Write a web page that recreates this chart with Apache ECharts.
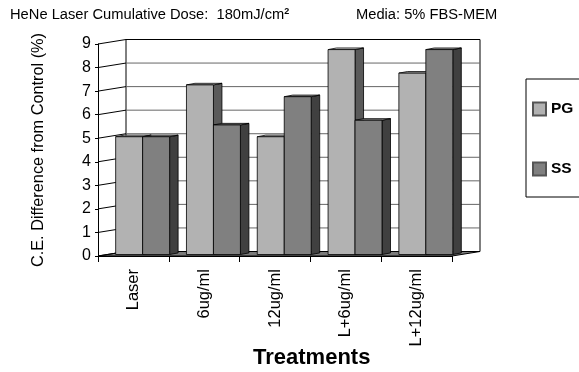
<!DOCTYPE html>
<html>
<head>
<meta charset="utf-8">
<script src="https://cdn.jsdelivr.net/npm/echarts@6/dist/echarts.min.js"></script>
<style>html,body{margin:0;padding:0;background:#fff}#c{width:579px;height:372px}</style>
</head>
<body>
<div id="c"></div>
<script>
const categories = ['Laser', '6ug/ml', '12ug/ml', 'L+6ug/ml', 'L+12ug/ml'];
const pgValues = [5.0, 7.2, 5.0, 8.7, 7.7];
const ssValues = [5.0, 5.5, 6.7, 5.7, 8.7];
const yTicks = [0, 1, 2, 3, 4, 5, 6, 7, 8, 9];
const seriesNames = ['PG', 'SS'];

const FONT = 'Liberation Sans';
const DX = 28, DY = -4.5;          // depth of the 3D box
const F1 = 0.33;                   // bar front depth fraction
const BDX = 8.5, BDY = -1.6;       // bar depth
const BARFRAC = 0.381;             // bar width as fraction of band

const faces = {
  PG: { front: '#b2b2b2', side: '#5a5a5a', top: '#cfcfcf' },
  SS: { front: '#808080', side: '#404040', top: '#9a9a9a' }
};

function frameItem(params, api) {
  const v = api.value(1);
  const bw = api.size([1, 0])[0];
  const x0 = api.coord([0, 0])[0] - bw / 2;
  const x1 = api.coord([categories.length - 1, 0])[0] + bw / 2;
  const y = api.coord([0, v])[1];
  const yTop = api.coord([0, yTicks[yTicks.length - 1]])[1];
  const y0 = api.coord([0, 0])[1];
  const children = [];
  if (params.dataIndex === 0) {
    children.push({
      type: 'polygon',
      shape: { points: [[x0, y0], [x1, y0], [x1 + DX, y0 + DY], [x0 + DX, y0 + DY]] },
      style: { fill: '#7a7a7a', stroke: '#000', lineWidth: 1 }
    });
    children.push({ type: 'line', shape: { x1: x0 + DX, y1: yTop + DY, x2: x0 + DX, y2: y0 + DY }, style: { stroke: '#000', lineWidth: 1 } });
    children.push({ type: 'line', shape: { x1: x1 + DX, y1: yTop + DY, x2: x1 + DX, y2: y0 + DY }, style: { stroke: '#000', lineWidth: 1 } });
  }
  if (v !== 0) {
    children.push({ type: 'line', shape: { x1: x0 + DX, y1: y + DY, x2: x1 + DX, y2: y + DY }, style: { stroke: v === yTicks[yTicks.length - 1] ? '#000' : '#666', lineWidth: 1 } });
  }
  children.push({ type: 'line', shape: { x1: x0, y1: y, x2: x0 + DX, y2: y + DY }, style: { stroke: '#000', lineWidth: 1 } });
  return { type: 'group', children: children };
}

function barRenderer(which) {
  return function (params, api) {
    const c = api.value(0), v = api.value(1);
    const bw = api.size([1, 0])[0];
    const w = bw * BARFRAC;
    const cx = api.coord([c, 0])[0];
    const base = api.coord([c, 0])[1];
    const top = api.coord([c, v])[1];
    const sx = DX * F1, sy = DY * F1;
    const xl = (which === 0 ? cx - w : cx) + sx;
    const xr = xl + w;
    const ty = top + sy, by = base + sy;
    const f = faces[seriesNames[which]];
    const st = (fill) => ({ fill: fill, stroke: '#000', lineWidth: 0.8 });
    return {
      type: 'group',
      children: [
        { type: 'polygon', shape: { points: [[xr, ty], [xr + BDX, ty + BDY], [xr + BDX, by + BDY], [xr, by]] }, style: st(f.side) },
        { type: 'polygon', shape: { points: [[xl, ty], [xr, ty], [xr + BDX, ty + BDY], [xl + BDX, ty + BDY]] }, style: st(f.top) },
        { type: 'rect', shape: { x: xl, y: ty, width: w, height: by - ty }, style: st(f.front) }
      ]
    };
  };
}

const chart = echarts.init(document.getElementById('c'), null, { renderer: 'canvas' });
chart.setOption({
  animation: false,
  backgroundColor: '#fff',
  textStyle: { fontFamily: FONT, color: '#000' },
  title: [
    {
      text: '{a|HeNe Laser Cumulative Dose:  180mJ/cm}{s|2}',
      left: 10, top: 7, padding: 0,
      textStyle: {
        rich: {
          a: { fontFamily: FONT, fontSize: 14.7, fontWeight: 'normal', color: '#000' },
          s: { fontFamily: FONT, fontSize: 9, color: '#000', verticalAlign: 'top', padding: [0, 0, 6, 0] }
        }
      }
    },
    {
      text: 'Media: 5% FBS-MEM', left: 356, top: 7, padding: 0,
      textStyle: { fontFamily: FONT, fontSize: 14.7, fontWeight: 'normal', color: '#000' }
    },
    {
      text: 'Treatments', left: 253, top: 347, padding: 0,
      textStyle: { fontFamily: FONT, fontSize: 22, fontWeight: 'bold', color: '#000' }
    }
  ],
  legend: {
    orient: 'vertical',
    left: 526, top: 79,
    padding: [22, 20, 20, 6],
    itemWidth: 13, itemHeight: 13, itemGap: 44,
    borderColor: '#000', borderWidth: 1,
    icon: 'rect',
    data: seriesNames,
    textStyle: { fontFamily: FONT, fontSize: 15.5, fontWeight: 'bold', color: '#000' }
  },
  grid: { left: 98, right: 127, top: 44, bottom: 116 },
  xAxis: {
    type: 'category',
    data: categories,
    axisLine: { lineStyle: { color: '#000', width: 1 } },
    axisTick: { show: true, length: 6, lineStyle: { color: '#000' } },
    axisLabel: { rotate: 90, margin: 13, fontSize: 16.5, fontFamily: FONT, color: '#000' },
    splitLine: { show: false }
  },
  yAxis: {
    type: 'value', min: 0, max: 9, interval: 1,
    name: 'C.E. Difference from Control (%)',
    nameLocation: 'middle', nameGap: 51, nameRotate: 90,
    nameTextStyle: { fontFamily: FONT, fontSize: 16.3, color: '#000' },
    axisLine: { show: true, lineStyle: { color: '#000', width: 1 } },
    axisTick: { show: true, length: 3, lineStyle: { color: '#000' } },
    axisLabel: { margin: 7, fontSize: 16, fontFamily: FONT, color: '#000' },
    splitLine: { show: false }
  },
  series: [
    {
      type: 'custom', name: 'frame', silent: true,
      renderItem: frameItem,
      data: yTicks.map(v => [0, v]),
      encode: { x: 0, y: 1 }, z: 1
    },
    {
      type: 'custom', name: 'PG',
      renderItem: barRenderer(0),
      itemStyle: { color: faces.PG.front, borderColor: '#555', borderWidth: 1 },
      data: pgValues.map((v, i) => [i, v]),
      encode: { x: 0, y: 1 }, z: 2
    },
    {
      type: 'custom', name: 'SS',
      renderItem: barRenderer(1),
      itemStyle: { color: faces.SS.front, borderColor: '#555', borderWidth: 1 },
      data: ssValues.map((v, i) => [i, v]),
      encode: { x: 0, y: 1 }, z: 3
    }
  ]
});
</script>
</body>
</html>
